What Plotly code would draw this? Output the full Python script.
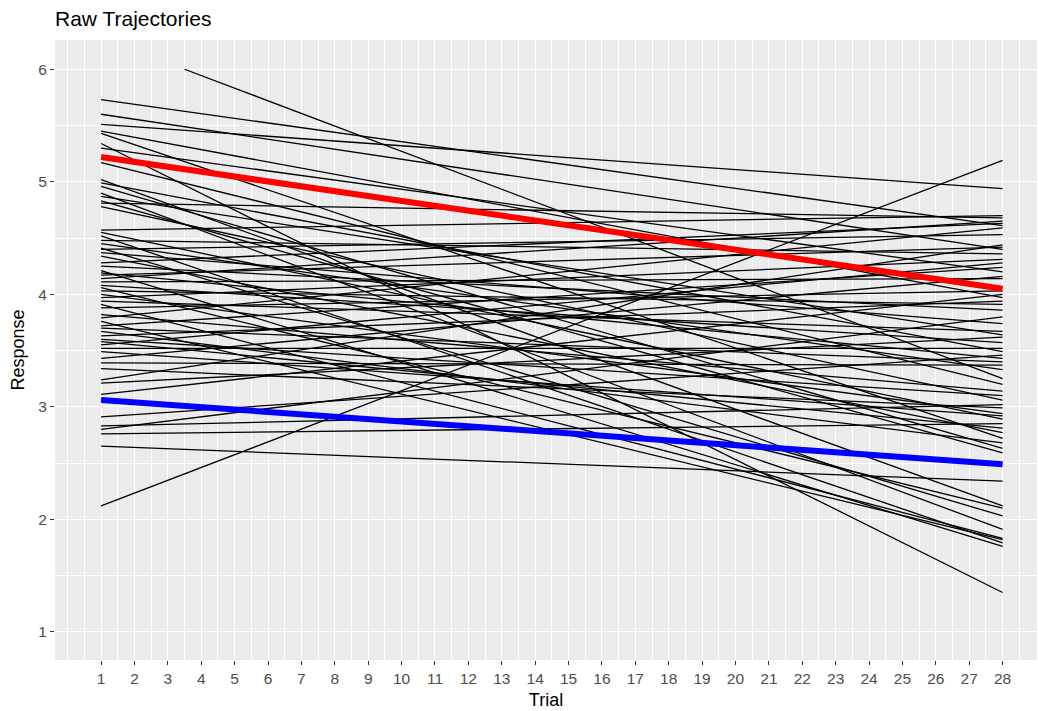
import plotly.graph_objects as go

# Trial axis
trial_ticks = list(range(1, 29))
last_trial = 28

# Per-subject fitted trajectories: response at the first plotted trial and at trial 28.
# (The first subject's curve is only visible from trial 3.5 on, where it drops below 6.)
subj_first_trial = [3.5] + [1] * 64
subj_first = [
    6.00, 5.73, 5.60, 5.51, 5.45, 5.43, 5.34, 5.30, 5.17, 5.02,
    4.99, 4.96, 4.90, 4.87, 4.83, 4.81, 4.78, 4.57, 4.55, 4.52,
    4.48, 4.45, 4.41, 4.40, 4.37, 4.34, 4.28, 4.25, 4.21, 4.19,
    4.17, 4.14, 4.11, 4.08, 4.06, 4.03, 4.00, 3.97, 3.94, 3.91,
    3.88, 3.82, 3.79, 3.76, 3.72, 3.70, 3.67, 3.63, 3.60, 3.58,
    3.55, 3.52, 3.49, 3.43, 3.39, 3.34, 3.24, 3.21, 3.11, 2.91,
    2.83, 2.80, 2.76, 2.65, 2.12,
]
subj_last = [
    3.25, 4.61, 4.40, 4.94, 3.97, 2.72, 1.35, 4.20, 3.20, 2.12,
    3.49, 2.63, 1.91, 3.64, 2.59, 4.68, 3.06, 4.70, 2.89, 1.79,
    4.36, 3.33, 2.03, 4.53, 3.74, 2.77, 4.63, 3.86, 1.76, 3.43,
    4.42, 4.65, 4.14, 3.57, 2.10, 3.91, 2.94, 4.31, 3.67, 1.83,
    4.03, 3.14, 4.59, 1.82, 4.24, 3.40, 2.68, 3.94, 3.10, 2.81,
    4.28, 3.52, 2.92, 4.16, 3.37, 2.99, 4.44, 3.62, 4.00, 3.46,
    3.02, 3.80, 2.85, 2.34, 5.19,
]

# Group mean trajectories (trial 1 and trial 28)
mean_trials = [1, 28]
mean_high = [5.22, 4.05]
mean_low = [3.06, 2.49]

# Flatten subject curves into one trace separated by gaps
xs, ys = [], []
for t0, y0, y1 in zip(subj_first_trial, subj_first, subj_last):
    xs += [t0, last_trial, None]
    ys += [y0, y1, None]

fig = go.Figure()
fig.add_trace(go.Scatter(
    x=xs, y=ys, mode="lines",
    line=dict(color="black", width=1.3),
    hoverinfo="skip", showlegend=False,
))
fig.add_trace(go.Scatter(
    x=mean_trials, y=mean_high, mode="lines",
    line=dict(color="#FF0000", width=6),
    showlegend=False,
))
fig.add_trace(go.Scatter(
    x=mean_trials, y=mean_low, mode="lines",
    line=dict(color="#0000FF", width=6),
    showlegend=False,
))

tick_font = dict(family="Liberation Sans, Arial, sans-serif", size=15.5, color="#4D4D4D")
title_font = dict(family="Liberation Sans, Arial, sans-serif", size=18, color="black")

fig.update_layout(
    width=1038, height=711,
    margin=dict(l=55, r=1, t=40, b=51),
    paper_bgcolor="white",
    plot_bgcolor="#EBEBEB",
    title=dict(
        text="Raw Trajectories",
        x=55 / 1038, xref="container", xanchor="left",
        y=1 - 19 / 711, yref="container", yanchor="middle",
        font=dict(family="Liberation Sans, Arial, sans-serif", size=21, color="black"),
    ),
    font=dict(family="Liberation Sans, Arial, sans-serif"),
)

fig.update_xaxes(
    range=[-0.38, 29.03],
    tickmode="array", tickvals=trial_ticks, ticktext=[str(t) for t in trial_ticks],
    showgrid=True, gridcolor="white", gridwidth=1.4,
    minor=dict(tick0=0, dtick=0.5, showgrid=True, gridcolor="white", gridwidth=0.7, ticks=""),
    ticks="outside", ticklen=4, tickcolor="#333333", tickwidth=1,
    tickfont=tick_font, zeroline=False, showline=False,
    title=dict(text="Trial", font=title_font, standoff=7),
)
fig.update_yaxes(
    range=[0.75, 6.26],
    tickmode="array", tickvals=[1, 2, 3, 4, 5, 6],
    showgrid=True, gridcolor="white", gridwidth=1.4,
    minor=dict(tick0=0, dtick=0.5, showgrid=True, gridcolor="white", gridwidth=0.7, ticks=""),
    ticks="outside", ticklen=4, tickcolor="#333333", tickwidth=1,
    tickfont=tick_font, zeroline=False, showline=False,
    title=dict(text="Response", font=title_font, standoff=8),
)

fig.write_html("out.html")
